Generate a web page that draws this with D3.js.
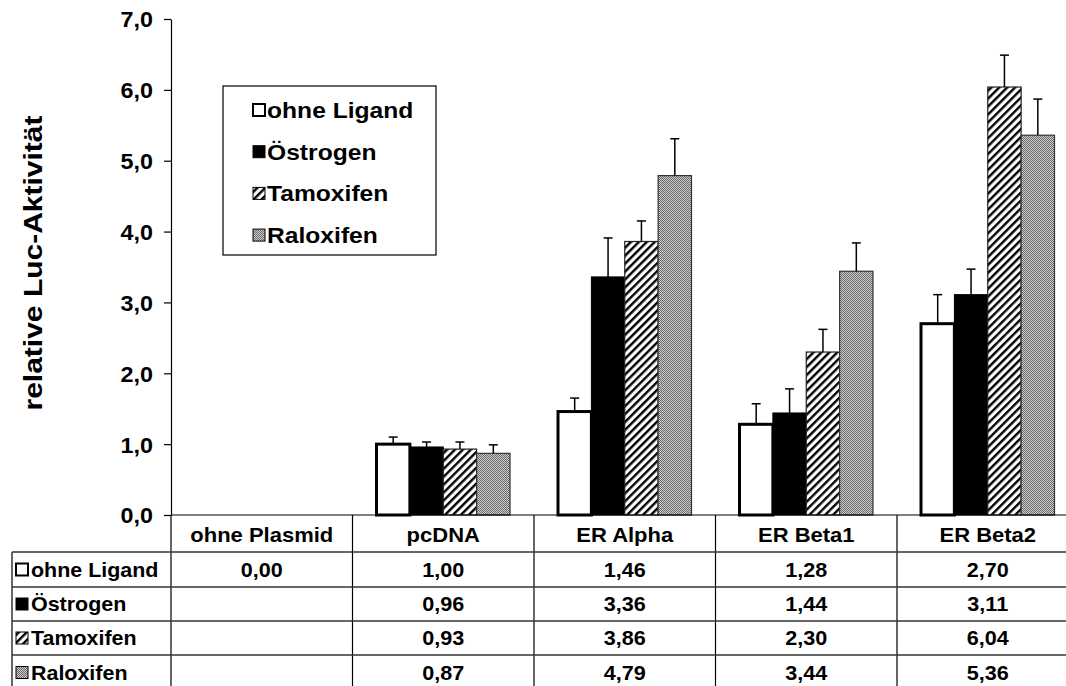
<!DOCTYPE html>
<html><head><meta charset="utf-8">
<script src="https://cdn.jsdelivr.net/npm/d3@7"></script>
<style>
body{margin:0;background:#fff;}
svg text{font-family:"Liberation Sans",Arial,Helvetica,sans-serif;font-weight:bold;fill:#000;}
</style>
</head><body>
<svg id="c" width="1066" height="686"></svg>
<script>
// ---- data ----
const categories = ["ohne Plasmid", "pcDNA", "ER Alpha", "ER Beta1", "ER Beta2"];
const seriesNames = ["ohne Ligand", "Östrogen", "Tamoxifen", "Raloxifen"];
const ohneLigand = [0.00, 1.00, 1.46, 1.28, 2.70];
const oestrogen  = [null, 0.96, 3.36, 1.44, 3.11];
const tamoxifen  = [null, 0.93, 3.86, 2.30, 6.04];
const raloxifen  = [null, 0.87, 4.79, 3.44, 5.36];
const errOhneLigand = [0, 0.10, 0.19, 0.29, 0.41];
const errOestrogen  = [null, 0.07, 0.55, 0.34, 0.36];
const errTamoxifen  = [null, 0.10, 0.29, 0.32, 0.45];
const errRaloxifen  = [null, 0.12, 0.52, 0.40, 0.51];
const yTicks = [0, 1, 2, 3, 4, 5, 6, 7];
const yTitle = "relative Luc-Aktivität";

const seriesValues = [ohneLigand, oestrogen, tamoxifen, raloxifen];
const seriesErrors = [errOhneLigand, errOestrogen, errTamoxifen, errRaloxifen];

// ---- layout ----
const svg = d3.select("#c");
const plotLeft = 171, colW = 181.5;
const plotRight = plotLeft + colW * categories.length;
const y0 = 515, yTop = 19;

function stext(g, x, yy, str, size, sx, anchor, rot) {
  return g.append("text")
    .attr("transform", `translate(${x},${yy})${rot ? ` rotate(${rot})` : ""} scale(${sx},1)`)
    .attr("text-anchor", anchor || "start").attr("dy", "0.36em")
    .attr("font-size", size).text(str);
}

const defs = svg.append("defs");
const hatch = defs.append("pattern").attr("id", "hatch").attr("patternUnits", "userSpaceOnUse")
  .attr("width", 5.6).attr("height", 5.6).attr("patternTransform", "rotate(45)");
hatch.append("rect").attr("width", 5.6).attr("height", 5.6).attr("fill", "#fff");
hatch.append("rect").attr("width", 2.4).attr("height", 5.6).attr("fill", "#000");

const dots = defs.append("pattern").attr("id", "dots").attr("patternUnits", "userSpaceOnUse")
  .attr("width", 2).attr("height", 2);
dots.append("rect").attr("width", 2).attr("height", 2).attr("fill", "#d0d0d0");
dots.append("rect").attr("width", 1).attr("height", 1).attr("fill", "#666");
dots.append("rect").attr("x", 1).attr("y", 1).attr("width", 1).attr("height", 1).attr("fill", "#666");

const styles = [
  {fill: "#fff", stroke: "#000", sw: 3},
  {fill: "#000", stroke: "#000", sw: 1},
  {fill: "url(#hatch)", stroke: "#222", sw: 1.2},
  {fill: "url(#dots)", stroke: "#333", sw: 1.2}
];

const x0 = d3.scaleBand().domain(categories).range([plotLeft, plotRight]).padding(0);
const x1 = d3.scaleBand().domain(seriesNames).range([24, colW - 24]).padding(0);
const y = d3.scaleLinear().domain([0, 7]).range([y0, yTop]);

// y axis
const yAxis = d3.axisLeft(y).tickValues(yTicks).tickSize(7).tickSizeOuter(0)
  .tickFormat(d => d3.format(".1f")(d).replace(".", ","));
const ga = svg.append("g").attr("transform", `translate(${plotLeft},0)`).call(yAxis);
ga.select(".domain").attr("stroke", "#000").attr("stroke-width", 1.2);
ga.selectAll(".tick line").attr("stroke", "#000").attr("stroke-width", 1.2);
ga.selectAll(".tick text").attr("x", null).attr("dy", "0.36em")
  .attr("transform", "translate(-18,0) scale(1.06,1)").attr("font-size", 22)
  .style("font-family", "'Liberation Sans',Arial,sans-serif").style("font-weight", "bold").attr("fill", "#000");

// y title
stext(svg, 33, 263, yTitle, 25, 1.2, "middle", -90);

// bars
const bars = svg.append("g");
seriesNames.forEach((s, si) => {
  categories.forEach((c, ci) => {
    const v = seriesValues[si][ci];
    if (v === null || v === 0) return;
    const xb = x0(c) + x1(s);
    const w = x1.bandwidth();
    const st = styles[si];
    bars.append("rect").attr("x", xb).attr("y", y(v)).attr("width", w).attr("height", y0 - y(v))
      .attr("fill", st.fill).attr("stroke", st.stroke).attr("stroke-width", st.sw);
    const e = seriesErrors[si][ci];
    if (e) {
      const cx = xb + w / 2;
      bars.append("line").attr("x1", cx).attr("x2", cx).attr("y1", y(v)).attr("y2", y(v + e))
        .attr("stroke", "#000").attr("stroke-width", 1.5);
      bars.append("line").attr("x1", cx - 4.5).attr("x2", cx + 4.5).attr("y1", y(v + e)).attr("y2", y(v + e))
        .attr("stroke", "#000").attr("stroke-width", 1.5);
    }
  });
});

// baseline
svg.append("line").attr("x1", plotLeft).attr("x2", 1066).attr("y1", y0).attr("y2", y0)
  .attr("stroke", "#000").attr("stroke-width", 1.2);

// legend
const lg = svg.append("g");
lg.append("rect").attr("x", 223).attr("y", 86).attr("width", 213).attr("height", 169)
  .attr("fill", "#fff").attr("stroke", "#000").attr("stroke-width", 1.2);
seriesNames.forEach((s, i) => {
  const cy = 110 + i * 41.7;
  const st = styles[i];
  lg.append("rect").attr("x", 253).attr("y", cy - 6).attr("width", 12).attr("height", 12)
    .attr("fill", st.fill).attr("stroke", "#000").attr("stroke-width", i === 0 ? 2 : 1);
  stext(lg, 267, cy, s, 22, 1.12, "start");
});

// table
const tbl = svg.append("g");
const rowTops = [552, 587, 621, 655, 690];
categories.forEach(c => {
  tbl.append("line").attr("x1", x0(c)).attr("x2", x0(c)).attr("y1", y0).attr("y2", 686)
    .attr("stroke", "#000").attr("stroke-width", 1.2);
});
tbl.append("line").attr("x1", 12).attr("x2", 12).attr("y1", rowTops[0]).attr("y2", 686)
  .attr("stroke", "#000").attr("stroke-width", 1.2);
rowTops.slice(0, 4).forEach(t => {
  tbl.append("line").attr("x1", 12).attr("x2", 1066).attr("y1", t).attr("y2", t)
    .attr("stroke", "#333").attr("stroke-width", 1.5);
});
categories.forEach(c => {
  stext(tbl, x0(c) + colW / 2, (y0 + rowTops[0]) / 2 + 1, c, 20, 1.1, "middle");
});
seriesNames.forEach((s, si) => {
  const cy = (rowTops[si] + rowTops[si + 1]) / 2;
  const st = styles[si];
  tbl.append("rect").attr("x", 16).attr("y", cy - 6).attr("width", 12).attr("height", 12)
    .attr("fill", st.fill).attr("stroke", "#000").attr("stroke-width", si === 0 ? 2 : 1);
  stext(tbl, 31, cy, s, 19.5, 1.1, "start");
  categories.forEach((c, ci) => {
    const v = seriesValues[si][ci];
    if (v === null) return;
    stext(tbl, x0(c) + colW / 2, cy, d3.format(".2f")(v).replace(".", ","), 20, 1.08, "middle");
  });
});
</script>
</body></html>
